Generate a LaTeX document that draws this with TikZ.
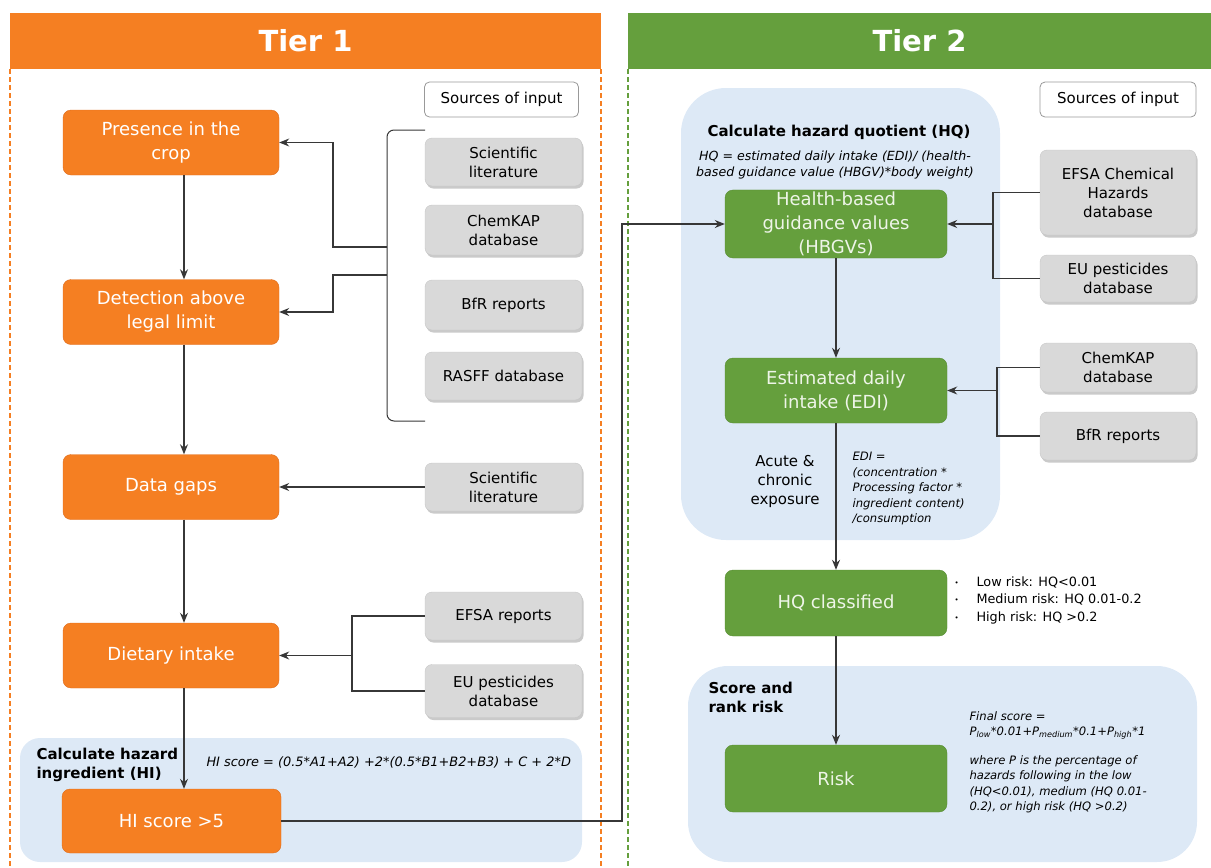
\documentclass[tikz,border=0pt]{standalone}
\usepackage{fontspec}
\setmainfont{DejaVu Sans}
\usetikzlibrary{arrows, arrows.meta, positioning, calc, shadows, backgrounds}
\definecolor{tierorange}{RGB}{245,127,34}
\definecolor{orangeline}{RGB}{222,108,28}
\definecolor{tiergreen}{RGB}{101,159,61}
\definecolor{greenline}{RGB}{86,140,50}
\definecolor{greentext}{RGB}{238,245,232}
\definecolor{srcgray}{RGB}{217,217,217}
\definecolor{srcline}{RGB}{198,198,198}
\definecolor{regionblue}{RGB}{221,233,246}
\definecolor{linegray}{RGB}{55,55,55}
\newcommand{\tierfont}{\fontsize{29}{32}\selectfont\bfseries}
\newcommand{\boxfont}{\fontsize{18}{24}\selectfont}
\newcommand{\srcfont}{\fontsize{15}{19}\selectfont}
\newcommand{\regionfont}{\fontsize{15}{19}\selectfont\bfseries}
\newcommand{\formfont}{\fontsize{11.6}{15.5}\selectfont\itshape}
\newcommand{\bulletfont}{\fontsize{12.8}{17.5}\selectfont}
\newcommand{\riskitem}[1]{\makebox[22pt][l]{\raisebox{1pt}{\fontsize{7}{7}\selectfont\textbullet}}#1}
\tikzset{>={Stealth[length=10pt, width=8pt]}}

\begin{document}
\begin{tikzpicture}[x=1pt, y=-1pt,
		tierbar/.style={minimum height=56, inner sep=0pt, text=white, font=\tierfont},
		stagebox/.style={rounded corners=8, minimum width=216, minimum height=65, align=center, inner sep=2pt, font=\boxfont},
		orangestage/.style={stagebox, fill=tierorange, draw=orangeline, text=white},
		greenstage/.style={stagebox, fill=tiergreen, draw=greenline, text=greentext, minimum width=222},
		srcbox/.style={rounded corners=7, fill=srcgray, draw=srcline, minimum width=157, minimum height=48, align=center, font=\srcfont, drop shadow={shadow xshift=1.5pt, shadow yshift=-2.5pt, opacity=0.35, fill=black!60}},
		srchead/.style={rounded corners=5, draw=black!40, line width=0.8pt, fill=white, minimum width=154, minimum height=35, font=\srcfont},
		link/.style={draw=linegray, line width=1.1pt},
		tierdash/.style={line width=1.5pt, dash pattern=on 5pt off 3pt}]

	\useasboundingbox (0,0) rectangle (1211,868);

	%shaded regions
	\fill [regionblue, rounded corners=20] (20,738) rectangle (582,862);
	\fill [regionblue, rounded corners=45] (681,88) rectangle (1000,540);
	\fill [regionblue, rounded corners=40] (688,666) rectangle (1197,862);

	%tier headers
	\node [tierbar, fill=tierorange, minimum width=591] (tier1head) at (305.5,41) {Tier 1};
	\node [tierbar, fill=tiergreen, minimum width=583] (tier2head) at (919.5,41) {Tier 2};
	\draw [tierdash, color=tierorange] (tier1head.south west) -- ++(0,799);
	\draw [tierdash, color=tierorange] (tier1head.south east) -- ++(0,799);
	\draw [tierdash, color=tiergreen] (tier2head.south west) -- ++(0,799);

	\node [srchead] (src1head) at (501.5,99.5) {Sources of input};
	\node [srchead, minimum width=156] (src2head) at (1118,99.5) {Sources of input};

	%tier 1 stages
	\node [orangestage] (pres) at (171,142.5) {Presence in the\\crop};
	\node [orangestage] (detect) at (171,312) {Detection above\\legal limit};
	\node [orangestage] (gaps) at (171,487) {Data gaps};
	\node [orangestage] (diet) at (171,655.5) {Dietary intake};
	\node [orangestage, minimum width=219, minimum height=64] (hi) at (171.5,821) {HI score >5};

	%tier 1 sources
	\node [srcbox] (sci1) at (503.5,162) {Scientific\\literature};
	\node [srcbox, minimum height=50] (chem1) at (503.5,230) {ChemKAP\\database};
	\node [srcbox, minimum height=50] (bfr1) at (503.5,305) {BfR reports};
	\node [srcbox] (rasff) at (503.5,376) {RASFF database};
	\node [srcbox] (sci2) at (503.5,487) {Scientific\\literature};
	\node [srcbox] (efsa) at (503.5,616) {EFSA reports};
	\node [srcbox, minimum height=53] (eupest1) at (503.5,691) {EU pesticides\\database};

	%tier 2 stages
	\node [greenstage, minimum height=67] (hbgv) at (836,224) {Health-based\\guidance values\\(HBGVs)};
	\node [greenstage] (edi) at (836,390.5) {Estimated daily\\intake (EDI)};
	\node [greenstage, minimum height=66] (hqc) at (836,603) {HQ classified};
	\node [greenstage, minimum height=67] (risk) at (836,778.5) {Risk};

	%tier 2 sources
	\node [srcbox, minimum width=156, minimum height=85] (efsachem) at (1118,192.5) {EFSA Chemical\\Hazards\\database};
	\node [srcbox, minimum width=156, minimum height=47] (eupest2) at (1118,278.5) {EU pesticides\\database};
	\node [srcbox, minimum width=156, minimum height=49] (chem2) at (1118,367.5) {ChemKAP\\database};
	\node [srcbox, minimum width=156] (bfr2) at (1118,436) {BfR reports};

	%texts
	\node [font=\regionfont] (hqtitle) at (839,132) {Calculate hazard quotient\ (HQ)};
	\node [font=\formfont\fontsize{12.6}{16}\selectfont, align=center] (hqform) at (835,165) {HQ = estimated daily intake (EDI)/ (health-\\based guidance value (HBGV)*body weight)};
	\node [font=\regionfont, align=left, anchor=north west] (hititle) at (33,745) {Calculate hazard\\ingredient\ (HI)};
	\node [font=\formfont\fontsize{12.9}{16}\selectfont, anchor=west] (hiform) at (203,762) {HI score = (0.5*A1+A2) +2*(0.5*B1+B2+B3) + C + 2*D};
	\node [font=\srcfont, align=center] (exposure) at (785,481) {Acute \&\\chronic\\exposure};
	\node [font=\formfont, align=left, anchor=north west] (ediform) at (849,449) {EDI =\\(concentration *\\Processing factor *\\ingredient content)\\/consumption};
	\node [font=\bulletfont, align=left, anchor=north west] (classes) at (951,573) {\riskitem{Low risk: HQ<0.01}\\\riskitem{Medium risk: HQ 0.01-0.2}\\\riskitem{High risk: HQ >0.2}};
	\node [font=\regionfont, align=left, anchor=north west] (risktitle) at (705,679) {Score and\\rank risk};
	\node [font=\formfont, align=left, anchor=north west] (scoreform) at (966,708) {Final score =\\P\textsubscript{low}*0.01+P\textsubscript{medium}*0.1+P\textsubscript{high}*1\\[13pt]where P is the percentage of\\hazards following in the low\\(HQ<0.01), medium (HQ 0.01-\\0.2), or high risk (HQ >0.2)};

	%tier 1 flow
	\coordinate (flowx) at (184,0);
	\draw [link,->] (pres.south -| flowx) -- (detect.north -| flowx);
	\draw [link,->] (detect.south -| flowx) -- (gaps.north -| flowx);
	\draw [link,->] (gaps.south -| flowx) -- (diet.north -| flowx);
	\draw [link,->] (diet.south -| flowx) -- (hi.north -| flowx);

	%bracket of sources
	\coordinate (brktop) at (425,130);
	\coordinate (brkbot) at (425,421);
	\draw [link, line width=1pt, rounded corners=7] (brktop) -- (387,130) -- (387,421) -- (brkbot);
	\coordinate (brkA) at (387,247);
	\coordinate (brkB) at (387,275);
	\draw [link,->] (brkA) -- (333,247) |- (pres.east);
	\draw [link,->] (brkB) -- (333,275) |- (detect.east);
	\draw [link,->] (sci2.west) -- (gaps.east);
	\coordinate (dietjoin) at (352,655.5);
	\draw [link] (efsa.west) -| (dietjoin) |- (eupest1.west);
	\draw [link,->] (dietjoin) -- (diet.east);

	%link to tier 2
	\coordinate (hqlink) at (622,224);
	\draw [link,->] (hi.east) -| (hqlink) -- (hbgv.west);

	%tier 2 flow
	\draw [link,->] (hbgv.south) -- (edi.north);
	\draw [link,->] (edi.south) -- (hqc.north);
	\draw [link,->] (hqc.south) -- (risk.north);
	\coordinate (hbgvjoin) at (993,224);
	\draw [link] (efsachem.west) -| (hbgvjoin) |- (eupest2.west);
	\draw [link,->] (hbgvjoin) -- (hbgv.east);
	\coordinate (edijoin) at (997,390.5);
	\draw [link] (chem2.west) -| (edijoin) |- (bfr2.west);
	\draw [link,->] (edijoin) -- (edi.east);

\end{tikzpicture}
\end{document}
